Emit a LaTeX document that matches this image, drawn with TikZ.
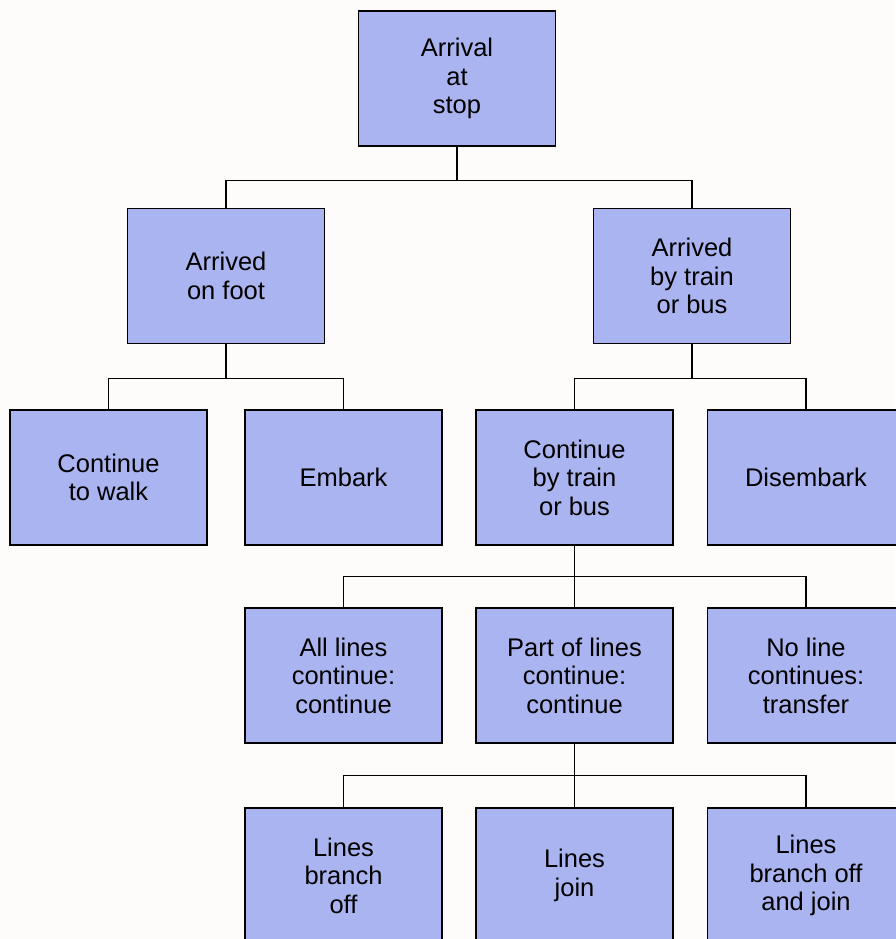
\documentclass[tikz,border=0pt]{standalone}
\usepackage{fontspec}
\setmainfont{Liberation Sans}
\definecolor{boxblue}{RGB}{170,180,240}
\definecolor{paper}{RGB}{253,252,250}
\tikzset{
  stepbox/.style={draw=black, line width=1.3pt, fill=boxblue, minimum width=197pt,
    minimum height=135pt, inner sep=0pt, align=center,
    font=\fontsize{25.5}{28.5}\selectfont},
  link/.style={line width=1.1pt}
}
\begin{document}
\begin{tikzpicture}[x=1pt,y=-1pt]
    \fill[paper] (0,0) rectangle (895,939);
    \useasboundingbox (0,0) rectangle (895,939);
    % levels
    \node[stepbox] (arrival) at (457,78.5) {Arrival\\at\\stop};
    \node[stepbox] (foot) at (226,276) {Arrived\\on foot};
    \node[stepbox] (vehicle) at (692,276) {Arrived\\by train\\or bus};
    \node[stepbox] (walk) at (108.5,477.5) {Continue\\to walk};
    \node[stepbox] (embark) at (343.5,477.5) {Embark};
    \node[stepbox] (cont) at (574.5,477.5) {Continue\\by train\\or bus};
    \node[stepbox] (disembark) at (806,477.5) {Disembark};
    \node[stepbox] (alllines) at (343.5,675.5) {All lines\\continue:\\continue};
    \node[stepbox] (partlines) at (574.5,675.5) {Part of lines\\continue:\\continue};
    \node[stepbox] (noline) at (806,675.5) {No line\\continues:\\transfer};
    \node[stepbox] (branch) at (343.5,875.5) {Lines\\branch\\off};
    \node[stepbox] (join) at (574.5,875.5) {Lines\\join};
    \node[stepbox] (both) at (806,875.5) {Lines\\branch off\\and join};
    % connectors
    \draw[link] (arrival.south) -- ++(0,34) -| (foot.north);
    \draw[link] (arrival.south) ++(0,34) -| (vehicle.north);
    \draw[link] (foot.south) -- ++(0,34) -| (walk.north);
    \draw[link] (foot.south) ++(0,34) -| (embark.north);
    \draw[link] (vehicle.south) -- ++(0,34) -| (cont.north);
    \draw[link] (vehicle.south) ++(0,34) -| (disembark.north);
    \draw[link] (cont.south) -- ++(0,31) -| (alllines.north);
    \draw[link] (cont.south) -- (partlines.north);
    \draw[link] (cont.south) ++(0,31) -| (noline.north);
    \draw[link] (partlines.south) -- ++(0,32) -| (branch.north);
    \draw[link] (partlines.south) -- (join.north);
    \draw[link] (partlines.south) ++(0,32) -| (both.north);
  \end{tikzpicture}
\end{document}
